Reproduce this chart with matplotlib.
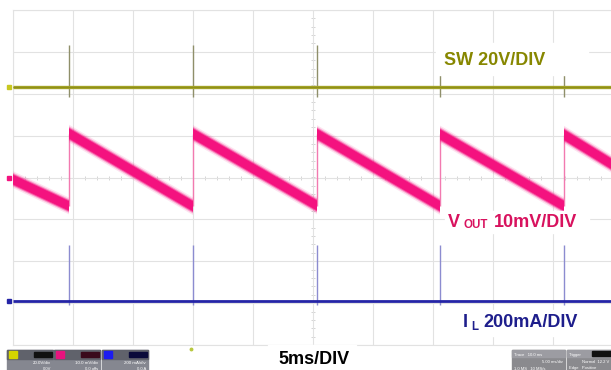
import numpy as np
import matplotlib
matplotlib.use("Agg")
import matplotlib.pyplot as plt
from matplotlib.patches import Rectangle

# ---------------- data (time in ms, amplitude in screen divisions) ----------------
t_start, t_end = 0.0, 50.0
jump_t = [4.67, 14.96, 25.33, 35.58, 45.92]        # switching events (ms)
vout_peak = [1.05, 1.05, 1.04, 1.03, 1.02]          # V_OUT right after each jump (div)
vout_trough = [-0.68, -0.68, -0.67, -0.68, -0.68]   # V_OUT just before each jump (div)
vout_first = -0.05                                  # V_OUT at left edge (div)
vout_last = 0.30                                    # V_OUT at right edge (div)
sw_level, sw_spike_top, sw_spike_bot = 2.15, 3.17, 1.93
il_level, il_spike_top, il_spike_bot = -2.94, -1.60, -3.05

labels = {"sw": "SW 20V/DIV", "vout_main": "V", "vout_sub": "OUT", "vout_rest": "10mV/DIV",
          "il_main": "I", "il_sub": "L", "il_rest": "200mA/DIV", "time": "5ms/DIV"}

# ---------------- figure ----------------
W, H = 611, 370
fig = plt.figure(figsize=(W / 100, H / 100), dpi=100)
fig.patch.set_facecolor("white")
ax = fig.add_axes([13 / W, 25 / H, 600 / W, 335 / H])
ax.set_xlim(t_start, t_end)
ax.set_ylim(-4, 4)
grid_c = "#e2e2e2"
ax.set_xticks(np.arange(0, 51, 5))
ax.set_yticks(np.arange(-4, 5, 1))
ax.grid(True, color=grid_c, lw=0.8)
ax.tick_params(length=0, labelbottom=False, labelleft=False)
for s in ax.spines.values():
    s.set_color(grid_c)
    s.set_linewidth(0.8)
# minor ticks along centre lines
mx = np.arange(0, 50.01, 1.0)
ax.plot(mx, np.zeros_like(mx), ls="none", marker="|", ms=3, mew=0.6, color="#cfcfcf", zorder=1)
my = np.arange(-4, 4.01, 0.2)
ax.plot(np.full_like(my, 25.0), my, ls="none", marker="_", ms=3, mew=0.6, color="#cfcfcf", zorder=1)

# ---------------- SW trace ----------------
sw_col = "#a2a226"
ax.vlines(jump_t, sw_spike_bot, sw_spike_top, color="#8f8f6a", lw=1.0, zorder=2)
ax.plot([t_start, t_end], [sw_level, sw_level], color=sw_col, lw=2.4, zorder=3,
        solid_capstyle="butt")
ax.plot([t_start, t_end], [sw_level, sw_level], color="#7d7d10", lw=0.6, zorder=3, alpha=0.6)

# ---------------- IL trace ----------------
il_col = "#2424a6"
ax.vlines(jump_t, il_spike_bot, il_spike_top, color="#8c8cd0", lw=1.0, zorder=2)
ax.plot([t_start, t_end], [il_level, il_level], color=il_col, lw=2.0, zorder=3,
        solid_capstyle="butt")

# ---------------- VOUT trace ----------------
vcol = "#f4127f"
ax.vlines(jump_t, vout_trough, vout_peak, color="#f27ab0", lw=1.0, zorder=2)
seg_t0 = [t_start] + jump_t
seg_v0 = [vout_first] + vout_peak
seg_t1 = jump_t + [t_end]
seg_v1 = vout_trough + [vout_last]
for a, va, b, vb in zip(seg_t0, seg_v0, seg_t1, seg_v1):
    clip = Rectangle((a, -4), b - a, 8, transform=ax.transData)
    for lw, al in [(11.0, 0.12), (9.0, 0.3), (7.5, 0.6), (6.2, 1.0)]:
        ln, = ax.plot([a, b], [va, vb], color=vcol, lw=lw, alpha=al,
                      solid_capstyle="projecting", zorder=3)
        ln.set_clip_path(clip)

# channel level markers on the left edge
for lvl, c in [(sw_level, "#c8c820"), (0.0, vcol), (il_level, il_col)]:
    ax.plot([-0.35], [lvl], marker="s", ms=2.5, color=c, clip_on=False, zorder=4)

# ---------------- overlay (labels / status bar) in pixel coords ----------------
ov = fig.add_axes([0, 0, 1, 1], zorder=5)
ov.set_xlim(0, W)
ov.set_ylim(H, 0)
ov.axis("off")
ov.patch.set_alpha(0)

fam = ["Liberation Sans", "DejaVu Sans"]
fs = 13

# white boxes behind labels
ov.add_patch(Rectangle((436, 43), 152, 32, color="white", zorder=1))
ov.add_patch(Rectangle((445, 211), 144, 22, color="white", zorder=1))
ov.add_patch(Rectangle((455, 310), 134, 26, color="white", zorder=1))
ov.add_patch(Rectangle((268, 345), 88, 25, color="white", zorder=1))

ov.text(444, 65, labels["sw"], fontsize=fs, fontweight="bold", color="#878700",
        family=fam, va="baseline", zorder=3)

vtxt = "#d8125e"
ov.text(448, 227, labels["vout_main"], fontsize=fs, fontweight="bold", color=vtxt,
        family=fam, va="baseline", zorder=3)
ov.text(463.5, 227.5, labels["vout_sub"], fontsize=8.3, fontweight="bold", color=vtxt,
        family=fam, va="baseline", zorder=3)
ov.text(494, 227, labels["vout_rest"], fontsize=fs, fontweight="bold", color=vtxt,
        family=fam, va="baseline", zorder=3)

itxt = "#1e1e8c"
ov.text(463, 327, labels["il_main"], fontsize=fs, fontweight="bold", color=itxt,
        family=fam, va="baseline", zorder=3)
ov.text(471, 330, labels["il_sub"], fontsize=8.3, fontweight="bold", color=itxt,
        family=fam, va="baseline", zorder=3)
ov.text(483, 327, labels["il_rest"], fontsize=fs, fontweight="bold", color=itxt,
        family=fam, va="baseline", zorder=3)

ov.text(314, 364, labels["time"], fontsize=fs, fontweight="bold", color="black",
        family=fam, va="baseline", ha="center", zorder=3)

# trigger position marker
ov.plot([191], [349], marker="o", ms=1.8, color="#b8c840", zorder=3)

# channel info boxes (bottom-left)
chan_boxes = [(7, "#d6d600", "#111111", "20.0V/div", "0.0V"),
              (54, "#e8137e", "#3a0a1c", "10.0 mV/div", "0.0 offs"),
              (102, "#1b1bf0", "#0a0a3a", "200 mA/div", "0.0 A")]
for x0, c, lc, t1, t2 in chan_boxes:
    ov.add_patch(Rectangle((x0, 350), 46, 20, color="#858790", zorder=2))
    ov.add_patch(Rectangle((x0, 350), 46, 9, color="#60626b", zorder=2))
    ov.add_patch(Rectangle((x0 + 2, 351), 8, 7, color=c, zorder=3))
    ov.add_patch(Rectangle((x0 + 27, 352), 18, 5, color=lc, zorder=3))
    ov.text(x0 + 44, 364, t1, fontsize=3.2, color="white", ha="right", va="baseline",
            family=fam, zorder=4)
    ov.text(x0 + 44, 369.5, t2, fontsize=3.0, color="white", ha="right", va="baseline",
            family=fam, zorder=4)

# status boxes (bottom-right)
for x0, w, t1, t2, t3 in [(512, 53, "Trace   10.0 ms", "5.00 ms/div", "1.0 MS   10 MS/s"),
                          (567, 44, "Trigger", "Normal  12.2 V", "Edge   Positive")]:
    ov.add_patch(Rectangle((x0, 350), w, 20, color="#8a8a8e", zorder=2))
    ov.add_patch(Rectangle((x0, 350), w, 7, color="#9c9ca2", zorder=2))
    ov.text(x0 + 2, 356, t1, fontsize=3.0, color="white", va="baseline", family=fam, zorder=4)
    ov.text(x0 + w - 2, 363, t2, fontsize=3.0, color="white", va="baseline", ha="right",
            family=fam, zorder=4)
    ov.text(x0 + 2, 369.5, t3, fontsize=3.0, color="white", va="baseline", family=fam, zorder=4)
ov.add_patch(Rectangle((592, 351), 19, 5, color="#111111", zorder=3))

fig.savefig("out.png", dpi=100, facecolor="white")
